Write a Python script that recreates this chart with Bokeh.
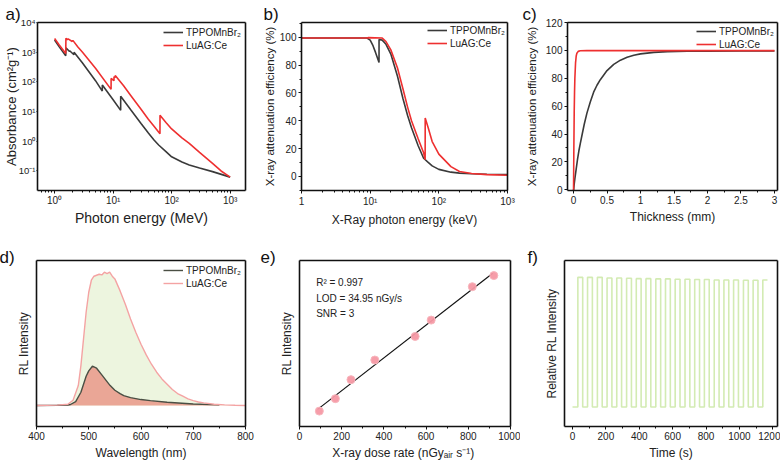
import numpy as np
from bokeh.plotting import figure
from bokeh.layouts import row, column
from bokeh.models import (Label, Range1d, LogTicker, SingleIntervalTicker, FixedTicker, LinearAxis,
                          Title, BasicTickFormatter)
from bokeh.embed import file_html
from bokeh.resources import INLINE

FONT = "Liberation Sans"
BLACK = "#3a3a3a"
RED = "#ee3030"

# ---------------- data ----------------
# a) absorbance vs photon energy
a_tppo_x = [1.0, 1.2, 1.55, 1.56, 1.8, 1.81, 2.14, 2.15, 3.0, 4.0, 5.0, 6.53, 6.54, 10.0, 13.46, 13.47,
            20.0, 30.0, 40.0, 50.0, 60.0, 80.0, 100.0, 150.0, 200.0, 300.0, 500.0, 1000.0]
a_tppo_y = [2570, 1510, 760, 1420, 1050, 1120, 820, 1000, 430, 200, 110, 49, 78, 25, 11, 33,
            11.5, 4.0, 1.9, 1.1, 0.75, 0.45, 0.30, 0.20, 0.16, 0.125, 0.095, 0.062]
a_luag_x = [1.0, 1.2, 1.55, 1.56, 1.65, 1.7, 2.0, 2.05, 2.5, 3.0, 5.0, 9.23, 9.24, 10.34, 10.35, 10.86,
            10.87, 15.0, 20.0, 30.0, 40.0, 50.0, 63.2, 63.3, 80.0, 100.0, 150.0, 200.0, 300.0, 500.0,
            700.0, 1000.0]
a_luag_y = [2900, 1750, 900, 2950, 2650, 2800, 2300, 2500, 1500, 1000, 290, 56, 130, 110, 150, 140,
            165, 75, 35, 12, 5.5, 3.2, 1.8, 7.5, 4.3, 2.6, 1.3, 0.85, 0.42, 0.18, 0.1, 0.062]
a_xticks = {1: "10⁰", 10: "10¹", 100: "10²", 1000: "10³"}
a_yticks = {0.1: "10⁻¹", 1: "10⁰", 10: "10¹", 100: "10²", 1000: "10³", 10000: "10⁴"}

# b) attenuation efficiency vs X-ray photon energy
b_tppo_x = [1, 9, 10, 11, 12, 13.46, 13.47, 15, 17, 20, 25, 30, 35, 40, 50, 60, 70, 80, 100, 150,
            200, 300, 500, 1000]
b_tppo_y = [99.5, 99.5, 98, 94, 89, 82, 98.5, 98, 95, 88, 72, 56, 44, 35, 22, 13, 10, 7.5, 5, 3,
            2.3, 1.8, 1.5, 1.3]
b_luag_x = [1, 9, 9.3, 15, 17, 20, 25, 30, 35, 40, 50, 60, 63.2, 63.3, 70, 80, 100, 150, 200, 300,
            500, 1000]
b_luag_y = [99.5, 99.5, 99.8, 99.5, 97, 91, 78, 63, 50, 40, 27, 17, 12, 42, 35, 25, 16, 7, 3.5, 2,
            1.2, 0.8]
b_xticks = {1: "1", 10: "10¹", 100: "10²", 1000: "10³"}

# c) attenuation efficiency vs thickness
c_tppo_x = [0, 0.01, 0.02, 0.04, 0.06, 0.08, 0.1, 0.13, 0.16, 0.2, 0.25, 0.3, 0.35, 0.4, 0.5, 0.6,
            0.7, 0.8, 0.9, 1.0, 1.2, 1.4, 1.7, 2.0, 2.5, 3.0]
c_tppo_y = [-1, 4, 8, 15, 22, 28, 33, 40, 47, 55, 63, 70, 75, 79, 85.5, 90, 93, 95, 96.5, 97.5,
            98.6, 99.1, 99.4, 99.5, 99.6, 99.6]
c_luag_x = [0, 0.005, 0.01, 0.015, 0.02, 0.03, 0.04, 0.05, 0.07, 0.1, 0.2, 3.0]
c_luag_y = [-1, 30, 55, 70, 80, 91, 96, 98, 99.3, 99.7, 99.8, 99.8]

# d) RL spectra
d_luag_x = [400, 440, 460, 470, 480, 485, 490, 495, 500, 505, 510, 520, 525, 530, 535, 540, 545,
            550, 560, 570, 580, 590, 600, 610, 620, 630, 640, 650, 660, 670, 680, 690, 700, 710,
            720, 740, 760, 780, 800]
d_luag_y = [0.0, 0.003, 0.01, 0.04, 0.15, 0.3, 0.5, 0.7, 0.85, 0.94, 0.97, 0.985, 0.98, 1.0, 0.99,
            1.0, 0.97, 0.95, 0.86, 0.76, 0.65, 0.55, 0.46, 0.38, 0.31, 0.25, 0.2, 0.16, 0.12, 0.09,
            0.07, 0.05, 0.037, 0.027, 0.02, 0.01, 0.005, 0.002, 0.0]
d_tppo_x = [400, 440, 460, 465, 475, 485, 490, 495, 500, 507, 515, 525, 535, 541, 550, 560, 567,
            580, 600, 618, 650, 700, 750]
d_tppo_y = [0.0, 0.002, 0.004, 0.008, 0.03, 0.1, 0.16, 0.22, 0.26, 0.295, 0.28, 0.23, 0.18, 0.15,
            0.115, 0.09, 0.075, 0.06, 0.045, 0.037, 0.025, 0.012, 0.005]

# e) dose-rate linearity
e_dose = [94, 170, 244, 357, 548, 624, 819, 921]
e_rl = [4.2, 8.0, 13.8, 19.8, 27.0, 32.0, 42.2, 45.6]
e_fit_x = [86, 916]

# f) on/off cycling
f_on = [32, 90, 149, 207, 265, 324, 382, 440, 499, 557, 615, 674, 732, 790, 849, 907, 965, 1024,
        1082, 1140]
f_off = [61, 119, 178, 236, 294, 353, 411, 469, 528, 586, 644, 703, 761, 819, 878, 936, 994, 1053,
         1111, 1168]
f_high = [1.0, 1.0, 1.0, 0.995, 0.995, 0.993, 0.99, 0.99, 0.988, 0.988, 0.985, 0.985, 0.983, 0.983,
          0.98, 0.98, 0.98, 0.978, 0.978, 0.98]
f_low = 0.0


# ---------------- helpers ----------------
def make_fig(l, r, t, b, xr, yr, xt="linear", yt="linear"):
    p = figure(width=260, height=231, x_range=xr, y_range=yr, x_axis_type=xt, y_axis_type=yt,
               output_backend="svg", toolbar_location=None,
               min_border_left=l, min_border_right=r, min_border_top=t, min_border_bottom=b)
    p.grid.visible = False
    p.outline_line_color = None
    p.background_fill_color = "white"
    p.border_fill_color = "white"
    for side in ("above", "right"):
        ax = LinearAxis(ticker=FixedTicker(ticks=[]), major_label_text_font_size="0px",
                        major_tick_out=0, minor_tick_out=0, major_tick_in=0, minor_tick_in=0,
                        axis_line_color="#111111", axis_line_width=1.6)
        p.add_layout(ax, side)
    for ax in [p.below[0], p.left[0]]:
        ax.axis_line_color = "#111111"
        ax.axis_line_width = 1.6
        ax.major_tick_line_color = "#111111"
        ax.minor_tick_line_color = "#111111"
        ax.major_tick_out = 3
        ax.major_tick_in = 0
        ax.minor_tick_out = 2
        ax.minor_tick_in = 0
        ax.major_label_text_font = FONT
        ax.major_label_text_font_size = "10px"
        ax.major_label_text_color = "#222222"
        ax.major_label_standoff = 2
        ax.axis_label_text_font = FONT
        ax.axis_label_text_font_size = "12px"
        ax.axis_label_text_font_style = "normal"
        ax.axis_label_text_color = "#222222"
        ax.axis_label_standoff = 3
    return p


def hide_y_ticks(p, standoff):
    ax = p.left[0]
    ax.ticker = FixedTicker(ticks=[])
    ax.major_tick_out = 0
    ax.minor_tick_out = 0
    ax.axis_label_standoff = standoff


def letter(p, txt, offset, standoff):
    p.add_layout(Title(text=txt, align="left", offset=offset, text_font=FONT,
                       text_font_size="17px", text_font_style="normal", text_color="#111111",
                       standoff=standoff), "above")


def style_legend(p, margin, padding):
    lg = p.legend[0]
    lg.location = "top_right"
    lg.border_line_color = None
    lg.background_fill_alpha = 0
    lg.label_text_font = FONT
    lg.label_text_font_size = "10px"
    lg.label_text_color = "#222222"
    lg.glyph_width = 20
    lg.glyph_height = 12
    lg.label_height = 12
    lg.label_standoff = 3
    lg.spacing = 1
    lg.margin = margin
    lg.padding = padding


# ---------------- a ----------------
pa = make_fig(32, 15, 20, 40, Range1d(0.51, 1830), Range1d(0.022, 1.0001e4), "log", "log")
for ax, ov in [(pa.below[0], a_xticks), (pa.left[0], a_yticks)]:
    ax.ticker = LogTicker(num_minor_ticks=10)
    ax.formatter = BasicTickFormatter()
    ax.major_label_overrides = ov
pa.left[0].minor_tick_out = 0
pa.left[0].major_tick_out = 1
pa.left[0].major_label_standoff = 1
pa.left[0].major_label_text_font_size = "9.5px"
pa.below[0].major_label_standoff = 1
pa.below[0].axis_label_standoff = 1
pa.below[0].axis_label = "Photon energy (MeV)"
pa.left[0].axis_label = "Absorbance (cm²g⁻¹)"
pa.below[0].axis_label_text_font_size = "14px"
pa.left[0].axis_label_text_font_size = "13px"
pa.left[0].axis_label_standoff = -3
pa.line(a_tppo_x, a_tppo_y, line_color=BLACK, line_width=1.6, legend_label="TPPOMnBr₂")
pa.line(a_luag_x, a_luag_y, line_color=RED, line_width=1.6, legend_label="LuAG:Ce")
style_legend(pa, 4, 5)
letter(pa, "a)", -32, -2)

# ---------------- b ----------------
pb = make_fig(39, 13, 22, 40, Range1d(1, 1000), Range1d(-10.2, 110.7), "log", "linear")
pb.below[0].ticker = LogTicker(num_minor_ticks=10)
pb.below[0].formatter = BasicTickFormatter()
pb.below[0].major_label_overrides = b_xticks
pb.left[0].ticker = SingleIntervalTicker(interval=20, num_minor_ticks=2)
pb.below[0].axis_label = "X-Ray photon energy (keV)"
pb.left[0].axis_label = "X-ray attenuation efficiency (%)"
pb.left[0].axis_label_text_font_size = "11.5px"
pb.left[0].axis_label_standoff = 1
pb.line(b_tppo_x, b_tppo_y, line_color=BLACK, line_width=1.6, legend_label="TPPOMnBr₂")
pb.line(b_luag_x, b_luag_y, line_color=RED, line_width=1.6, legend_label="LuAG:Ce")
style_legend(pb, 2, 6)
letter(pb, "b)", -38, -2)

# ---------------- c ----------------
pc = make_fig(47, 3, 21, 41, Range1d(-0.09, 3.045), Range1d(-0.5, 120), "linear", "linear")
pc.below[0].ticker = SingleIntervalTicker(interval=0.5, num_minor_ticks=2)
pc.left[0].ticker = SingleIntervalTicker(interval=20, num_minor_ticks=2)
pc.below[0].axis_label = "Thickness (mm)"
pc.left[0].axis_label = "X-ray attenuation efficiency (%)"
pc.left[0].axis_label_text_font_size = "11.5px"
pc.left[0].axis_label_standoff = 5
pc.line(c_tppo_x, c_tppo_y, line_color=BLACK, line_width=1.6, legend_label="TPPOMnBr₂")
pc.line(c_luag_x, c_luag_y, line_color=RED, line_width=1.6, legend_label="LuAG:Ce")
style_legend(pc, 3, 2)
letter(pc, "c)", -45, -2)

# ---------------- d ----------------
pd_ = make_fig(36, 15, 28, 34, Range1d(400, 800), Range1d(-0.157, 1.088), "linear", "linear")
pd_.below[0].ticker = SingleIntervalTicker(interval=100, num_minor_ticks=2)
hide_y_ticks(pd_, 6)
pd_.below[0].axis_label = "Wavelength (nm)"
pd_.left[0].axis_label = "RL Intensity"
pd_.varea(x=d_luag_x, y1=0, y2=d_luag_y, fill_color="#edf5df", fill_alpha=1.0)
pd_.varea(x=d_tppo_x, y1=0, y2=d_tppo_y, fill_color="#eaa696", fill_alpha=1.0)
pd_.line(d_tppo_x, d_tppo_y, line_color="#4a4f44", line_width=1.4, legend_label="TPPOMnBr₂")
pd_.line(d_luag_x, d_luag_y, line_color="#f4a3a3", line_width=1.4, legend_label="LuAG:Ce")
style_legend(pd_, 4, 6)
letter(pd_, "d)", -37, -12)

# ---------------- e ----------------
pe = make_fig(39, 10, 29, 33, Range1d(0, 1000), Range1d(-0.5, 50.2), "linear", "linear")
pe.below[0].ticker = SingleIntervalTicker(interval=200, num_minor_ticks=2)
hide_y_ticks(pe, 6)
pe.below[0].axis_label = "X-ray dose rate  (nGyₐᵢᵣ s⁻¹)"
pe.left[0].axis_label = "RL Intensity"
slope, icpt = np.polyfit(e_dose, e_rl, 1)
pe.line(e_fit_x, [slope * v + icpt for v in e_fit_x], line_color="#111111", line_width=1.2)
pe.scatter(e_dose, e_rl, size=8, fill_color="#f598a4", line_color="#f7b6bd", fill_alpha=0.95)
for txt, yy in [("R² = 0.997", 43.5), ("LOD = 34.95 nGy/s", 38.7), ("SNR = 3", 34.0)]:
    pe.add_layout(Label(x=79, y=yy, text=txt, text_font=FONT, text_font_size="10px",
                        text_color="#222222", text_baseline="middle", text_align="left"))
letter(pe, "e)", -39, -12)

# ---------------- f ----------------
pf = make_fig(44, 3, 28, 32, Range1d(-48, 1228), Range1d(-0.15, 1.13), "linear", "linear")
pf.below[0].ticker = SingleIntervalTicker(interval=200, num_minor_ticks=2)
hide_y_ticks(pf, 6)
pf.below[0].axis_label = "Time (s)"
pf.left[0].axis_label = "Relative RL Intensity"
fx = [0]
fy = [f_low]
n = len(f_on)
for i in range(n):
    fx += [f_on[i], f_on[i], f_off[i]]
    fy += [f_low, f_high[i], f_high[i]]
    if i < n - 1:
        fx.append(f_off[i])
        fy.append(f_low)
pf.line(fx, fy, line_color="#d3ebb3", line_width=1.6)
letter(pf, "f)", -37, -12)

layout = column(row(pa, pb, pc), row(pd_, pe, pf))
open("out.html", "w").write(file_html(layout, INLINE))
